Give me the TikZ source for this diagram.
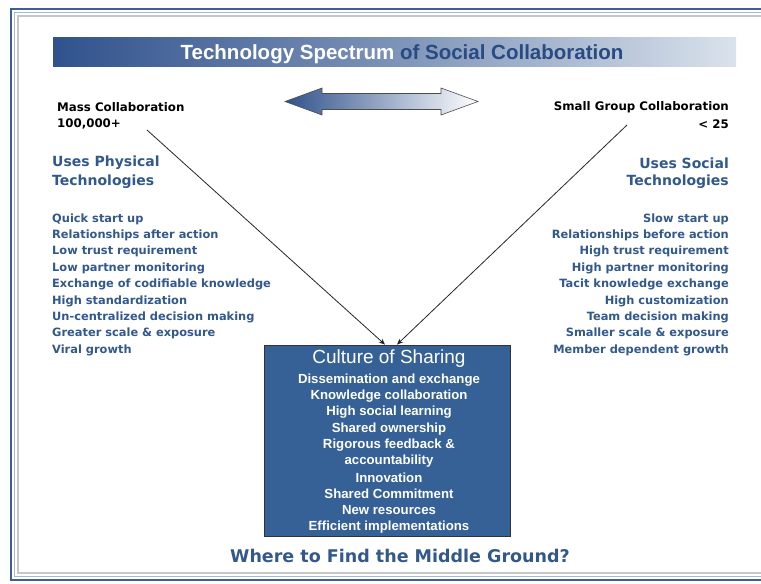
\documentclass[tikz,border=0pt]{standalone}
\usepackage{fontspec}
\setmainfont{DejaVu Sans}
\newfontfamily\arialbold{Liberation Sans}[UprightFont=* Bold]
\newfontfamily\arialreg{Liberation Sans}
\newfontfamily\verdbold{DejaVu Sans}[UprightFont=* Bold]
\usetikzlibrary{arrows.meta}

\definecolor{frameblue}{RGB}{60,95,150}
\definecolor{bannerdark}{RGB}{48,82,140}
\definecolor{bannerlight}{RGB}{218,226,236}
\definecolor{txtblue}{RGB}{50,88,140}
\definecolor{boxblue}{RGB}{54,97,150}
\definecolor{titleblue}{RGB}{40,75,130}

\tikzset{
  headtext/.style={inner sep=0pt, font=\verdbold\fontsize{11.8}{13}\selectfont, text=black},
  techtext/.style={inner sep=0pt, font=\verdbold\fontsize{14}{18}\selectfont, text=txtblue},
  itemtext/.style={inner sep=0pt, font=\verdbold\fontsize{11.4}{13}\selectfont, text=txtblue},
  boxtext/.style={inner sep=0pt, font=\arialbold\fontsize{13.2}{15}\selectfont, text=white},
  link/.style={draw=black!85, line width=0.8pt, -{Stealth[length=6pt,width=5pt]}},
}

\begin{document}
\begin{tikzpicture}[x=1pt,y=-1pt]
  \useasboundingbox (0,0) rectangle (761,584);
  \fill[white] (0,0) rectangle (761,584);

  % page frame (open on the right)
  \draw[frameblue, line width=2.2pt] (761,9) -- (11,9) -- (11,580) -- (761,580);
  \draw[frameblue!45, line width=0.8pt] (761,12.5) -- (14.5,12.5) -- (14.5,576.5) -- (761,576.5);
  \draw[black!22, line width=1.4pt] (761,16) -- (18,16) -- (18,573) -- (761,573);

  % title banner
  \shade[left color=bannerdark, right color=bannerlight, middle color=bannerdark!55!bannerlight]
    (53,37) rectangle (736,66);
  \node[inner sep=0pt, font=\arialbold\fontsize{20.5}{24}\selectfont] (title) at (402,54)
    {\textcolor{white}{Technology Spectrum} \textcolor{titleblue}{of Social Collaboration}};

  % two-headed spectrum arrow
  \shade[left color=bannerdark, right color=white, draw=black!70, line width=0.6pt]
    (285,101.5) -- (322,88) -- (322,93.5) -- (441,93.5) -- (441,88) -- (478,101.5)
    -- (441,115) -- (441,109.5) -- (322,109.5) -- (322,115) -- cycle;

  % headings
  \node[headtext, anchor=west] (mass) at (57,107) {Mass Collaboration};
  \node[headtext, anchor=west] (massn) at (57,124) {100,000+};
  \node[headtext, anchor=east] (small) at (729,107) {Small Group Collaboration};
  \node[headtext, anchor=east] (smalln) at (729,124) {< 25};

  \node[techtext, anchor=west] (phys1) at (52,163) {Uses Physical};
  \node[techtext, anchor=west] (phys2) at (52,182) {Technologies};
  \node[techtext, anchor=east] (soc1) at (729,163) {Uses Social};
  \node[techtext, anchor=east] (soc2) at (729,182) {Technologies};

  % left list
  \foreach \t [count=\i] in {Quick start up, Relationships after action,
      Low trust requirement, Low partner monitoring,
      Exchange of codifiable knowledge, High standardization,
      Un-centralized decision making, Greater scale \& exposure, Viral growth}
    \node[itemtext, anchor=west] (L\i) at (52,{219+(\i-1)*16.4}) {\t};

  % right list
  \foreach \t [count=\i] in {Slow start up, Relationships before action,
      High trust requirement, High partner monitoring,
      Tacit knowledge exchange, High customization,
      Team decision making, Smaller scale \& exposure, Member dependent growth}
    \node[itemtext, anchor=east] (R\i) at (729,{219+(\i-1)*16.4}) {\t};

  % central box
  \node[draw=black!80, line width=0.8pt, fill=boxblue, minimum width=246pt, minimum height=191pt,
        inner sep=0pt] (box) at (387,440.5) {};
  \node[inner sep=0pt, text=white, font=\arialreg\fontsize{19}{22}\selectfont] (culture) at (389,359) {Culture of Sharing};
  \foreach \t [count=\i] in {Dissemination and exchange, Knowledge collaboration,
      High social learning, Shared ownership, Rigorous feedback \&,
      accountability, Innovation, Shared Commitment, New resources,
      Efficient implementations}
    \node[boxtext] (B\i) at (389,{380+(\i-1)*16.3}) {\t};

  % connectors
  \coordinate (lstart) at (147,130);
  \coordinate (rstart) at (627,125);
  \draw[link] (lstart) -- (box.north -| 385,0);
  \draw[link] (rstart) -- (box.north -| 397,0);

  % footer question
  \node[inner sep=0pt, text=txtblue, font=\verdbold\fontsize{17.5}{20}\selectfont] (q) at (400,556)
    {Where to Find the Middle Ground?};
\end{tikzpicture}
\end{document}
